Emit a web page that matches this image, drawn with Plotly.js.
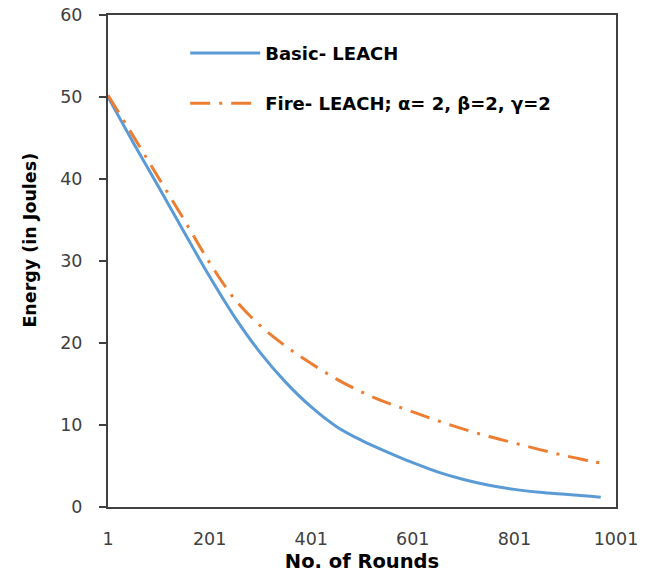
<!DOCTYPE html>
<html>
<head>
<meta charset="utf-8">
<script src="https://cdn.plot.ly/plotly-3.0.1.min.js"></script>
<style>html,body{margin:0;padding:0;background:#fff;}#chart{width:655px;height:575px;}</style>
</head>
<body>
<div id="chart"></div>
<script>
const rounds = [1, 51, 101, 151, 201, 251, 301, 351, 401, 451, 501, 551, 601, 651, 701, 751, 801, 851, 901, 951, 971];
const basicLeach = [50.0, 44.4, 39.0, 33.5, 28.1, 23.1, 18.8, 15.2, 12.2, 9.8, 8.1, 6.7, 5.4, 4.25, 3.35, 2.65, 2.15, 1.8, 1.55, 1.3, 1.2];
const fireLeach = [50.2, 45.2, 40.1, 35.0, 29.8, 25.3, 22.1, 19.6, 17.5, 15.6, 14.0, 12.7, 11.6, 10.5, 9.5, 8.6, 7.8, 7.0, 6.25, 5.6, 5.35];
const xTicks = [1, 201, 401, 601, 801, 1001];
const yTicks = [0, 10, 20, 30, 40, 50, 60];
const seriesNames = ['Basic- LEACH', 'Fire- LEACH; α= 2, β=2, γ=2'];
const xTitle = 'No. of Rounds';
const yTitle = 'Energy (in Joules)';

const traces = [
  {x: rounds, y: basicLeach, name: seriesNames[0], mode: 'lines', line: {color: '#5B9BD5', width: 3, shape: 'spline', smoothing: 1}, legendgroup: 'a'},
  {x: rounds, y: fireLeach, name: seriesNames[1], mode: 'lines', line: {color: '#ED7D31', width: 3, dash: '20px,9px,3px,9px', shape: 'spline', smoothing: 1}, legendgroup: 'b'}
];

const axisCommon = {showgrid: false, zeroline: false};
const layout = {
  width: 655, height: 575,
  margin: {l: 108, r: 39, t: 15, b: 68},
  paper_bgcolor: '#fff', plot_bgcolor: '#fff',
  font: {family: 'DejaVu Sans, sans-serif', color: '#404040', size: 15},
  showlegend: true,
  legend: {x: 0.152, y: 0.96, xanchor: 'left', yanchor: 'top', bgcolor: 'rgba(0,0,0,0)',
    font: {family: 'DejaVu Sans, sans-serif', size: 18, color: '#000', weight: 'bold'},
    itemwidth: 70, tracegroupgap: 24},
  xaxis: Object.assign({}, axisCommon, {
    range: [1, 1001], tickvals: xTicks, ticktext: xTicks.map(String),
    showline: true, linecolor: '#404040', linewidth: 2, mirror: true,
    ticks: '', ticklabelstandoff: 15,
    tickfont: {size: 17.5, color: '#404040'},
    title: {text: xTitle, font: {size: 19.5, color: '#000', weight: 'bold'}, standoff: 6}
  }),
  yaxis: Object.assign({}, axisCommon, {
    range: [0, 60], tickvals: yTicks, ticktext: yTicks.map(String),
    showline: true, linecolor: '#404040', linewidth: 2, mirror: true,
    ticks: 'outside', ticklen: 20, tickwidth: 2, tickcolor: 'rgba(0,0,0,0)',
    tickfont: {size: 17.5, color: '#404040'}
  }),
  yaxis2: Object.assign({}, axisCommon, {
    range: [0, 60], tickvals: yTicks, overlaying: 'y', side: 'left',
    showticklabels: false, showline: false,
    ticks: 'outside', ticklen: 8, tickwidth: 2, tickcolor: '#404040'
  }),
  annotations: [{
    text: yTitle, textangle: -90, xref: 'paper', yref: 'paper',
    x: -0.154, y: 0.543, xanchor: 'center', yanchor: 'middle', showarrow: false,
    font: {size: 17.5, color: '#000', weight: 'bold'}
  }]
};
traces.push({x: [xTicks[0]], y: [yTicks[0]], yaxis: 'y2', mode: 'lines', showlegend: false, hoverinfo: 'skip', line: {width: 0}});
Plotly.newPlot('chart', traces, layout, {displayModeBar: false, staticPlot: true});
</script>
</body>
</html>
